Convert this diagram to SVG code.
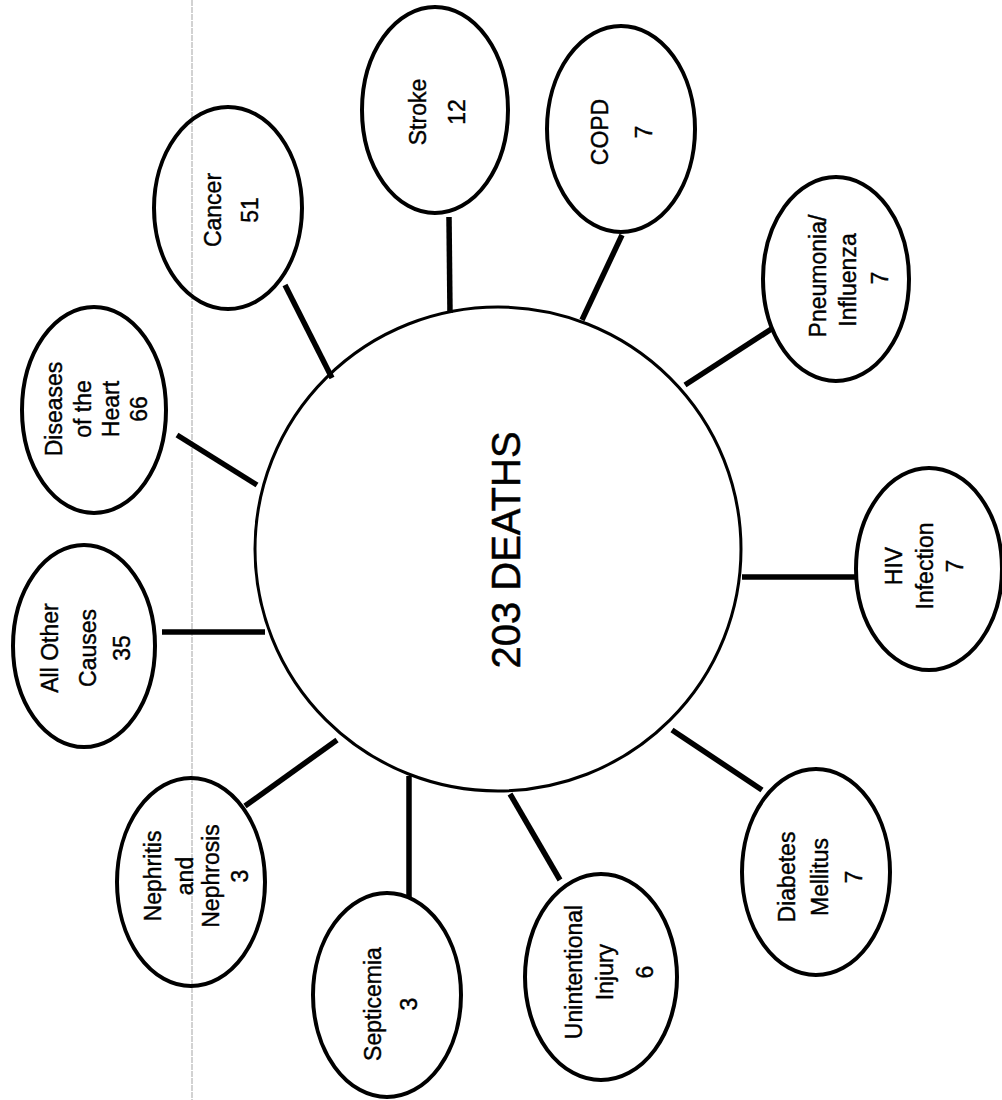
<svg xmlns="http://www.w3.org/2000/svg" width="1002" height="1100" viewBox="0 0 1002 1100">
<style>
.bg{fill:#fff}
.node{fill:none;stroke:#000;stroke-width:4}
.hub{fill:none;stroke:#000;stroke-width:3}
.conn line{stroke:#000;stroke-width:5.5;stroke-linecap:butt}
text{font-family:"Liberation Sans",Arial,Helvetica,sans-serif;font-size:23px;fill:#000;stroke:#000;stroke-width:0.4;text-anchor:middle}
.big{font-size:40px;stroke-width:0.5}
.fold{stroke:#c4c4c4;stroke-width:1.5;stroke-dasharray:6 1}
</style>
<rect class="bg" x="0" y="0" width="1002" height="1100"/>
<line class="fold" x1="192" y1="0" x2="192" y2="1100"/>
<g id="connectors" class="conn">
<line x1="162" y1="632" x2="265" y2="632"/>
<line x1="177" y1="435" x2="257" y2="485"/>
<line x1="285" y1="285" x2="332" y2="378"/>
<line x1="449" y1="217" x2="450" y2="313"/>
<line x1="622" y1="235" x2="582" y2="320"/>
<line x1="773" y1="328" x2="685" y2="385"/>
<line x1="742" y1="577" x2="855" y2="577"/>
<line x1="672" y1="730" x2="762" y2="790"/>
<line x1="510" y1="794" x2="560" y2="880"/>
<line x1="409" y1="776" x2="409" y2="897"/>
<line x1="245" y1="806" x2="337" y2="740"/>
</g>
<g id="hub">
<ellipse class="hub" cx="498" cy="549" rx="243" ry="242"/>
<text class="big" transform="rotate(-90)" x="-550" y="520">203 DEATHS</text>
</g>
<g id="cancer">
<ellipse class="node" cx="228" cy="208" rx="74" ry="101"/>
<text transform="rotate(-90)"><tspan x="-210" y="221">Cancer</tspan><tspan x="-210" y="258">51</tspan></text>
</g>
<g id="stroke">
<ellipse class="node" cx="435" cy="110" rx="73" ry="103"/>
<text transform="rotate(-90)"><tspan x="-112" y="426">Stroke</tspan><tspan x="-112" y="465">12</tspan></text>
</g>
<g id="copd">
<ellipse class="node" cx="621" cy="129" rx="74" ry="103"/>
<text transform="rotate(-90)"><tspan x="-132" y="608">COPD</tspan><tspan x="-132" y="652">7</tspan></text>
</g>
<g id="pneumonia">
<ellipse class="node" cx="836" cy="279" rx="73" ry="102"/>
<text transform="rotate(-90)"><tspan x="-276" y="826">Pneumonia/</tspan><tspan x="-280" y="856">Influenza</tspan><tspan x="-278" y="888">7</tspan></text>
</g>
<g id="hiv">
<ellipse class="node" cx="929" cy="569" rx="73" ry="101"/>
<text transform="rotate(-90)"><tspan x="-566" y="902">HIV</tspan><tspan x="-566" y="933">Infection</tspan><tspan x="-566" y="963">7</tspan></text>
</g>
<g id="diabetes">
<ellipse class="node" cx="816" cy="872" rx="74" ry="103"/>
<text transform="rotate(-90)"><tspan x="-877" y="795">Diabetes</tspan><tspan x="-877" y="828">Mellitus</tspan><tspan x="-877" y="862">7</tspan></text>
</g>
<g id="unintentional">
<ellipse class="node" cx="601" cy="977" rx="76" ry="103"/>
<text transform="rotate(-90)"><tspan x="-972" y="582">Unintentional</tspan><tspan x="-972" y="613">Injury</tspan><tspan x="-972" y="653">6</tspan></text>
</g>
<g id="septicemia">
<ellipse class="node" cx="387" cy="995" rx="74" ry="102"/>
<text transform="rotate(-90)"><tspan x="-1004" y="381">Septicemia</tspan><tspan x="-1004" y="417">3</tspan></text>
</g>
<g id="nephritis">
<ellipse class="node" cx="191" cy="882" rx="74" ry="104"/>
<text transform="rotate(-90)"><tspan x="-876" y="161">Nephritis</tspan><tspan x="-876" y="193">and</tspan><tspan x="-876" y="219">Nephrosis</tspan><tspan x="-876" y="248">3</tspan></text>
</g>
<g id="allother">
<ellipse class="node" cx="84" cy="646" rx="71" ry="101"/>
<text transform="rotate(-90)"><tspan x="-648" y="58">All Other</tspan><tspan x="-648" y="96">Causes</tspan><tspan x="-648" y="130">35</tspan></text>
</g>
<g id="heart">
<ellipse class="node" cx="94" cy="410" rx="72" ry="103"/>
<text transform="rotate(-90)"><tspan x="-409" y="62">Diseases</tspan><tspan x="-409" y="91">of the</tspan><tspan x="-409" y="119">Heart</tspan><tspan x="-409" y="147">66</tspan></text>
</g>
</svg>
